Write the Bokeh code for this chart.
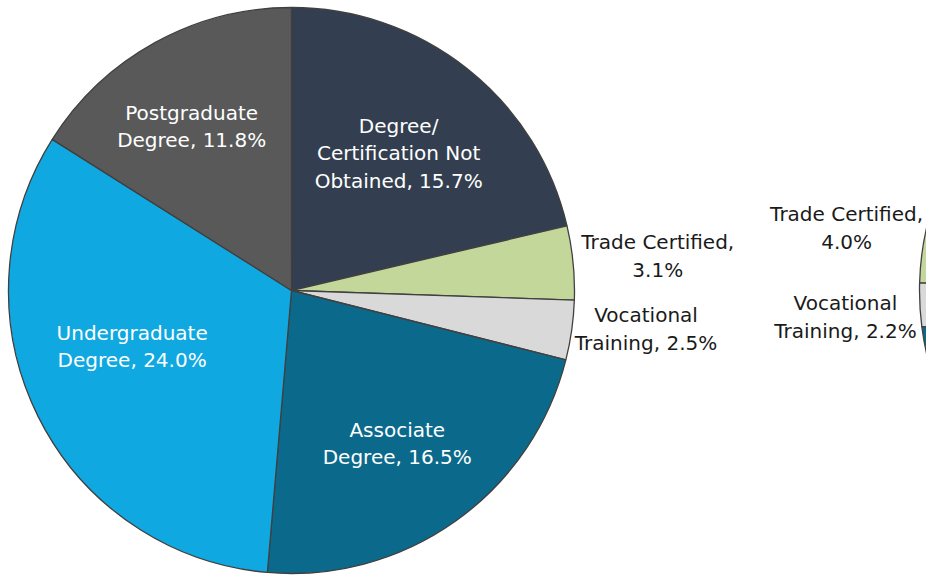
import math
from bokeh.plotting import figure
from bokeh.models import Range1d, ColumnDataSource
from bokeh.core.properties import value
from bokeh.embed import file_html
from bokeh.resources import INLINE

# ---- data ----
categories = ["Degree/ Certification Not Obtained", "Trade Certified", "Vocational Training",
              "Associate Degree", "Undergraduate Degree", "Postgraduate Degree"]
pie1_values = [15.7, 3.1, 2.5, 16.5, 24.0, 11.8]
# second pie is mostly off-canvas; only Trade Certified / Vocational Training are readable
pie2_values = [17.9, 4.0, 2.2, 20.0, 30.0, 15.0]
pie1_labels = ["Degree/\nCertification Not\nObtained, 15.7%", "Trade Certified,\n3.1%",
               "Vocational\nTraining, 2.5%", "Associate\nDegree, 16.5%",
               "Undergraduate\nDegree, 24.0%", "Postgraduate\nDegree, 11.8%"]
pie2_labels = ["", "Trade Certified,\n4.0%", "Vocational\nTraining, 2.2%", "", "", ""]

# ---- styles / layout ----
colors = ["#333F50", "#C4D79B", "#D9D9D9", "#0B6A8B", "#10A8E0", "#595959"]
label_colors1 = ["white", "#1a1a1a", "#1a1a1a", "white", "white", "white"]
label_colors2 = ["white", "#1a1a1a", "#1a1a1a", "white", "white", "white"]
FONT = "DejaVu Sans"
FS = "20px"

W, H = 926, 575
R = 283
c1 = (291, H - 290)
c2 = (1202, H - 290)
# label placement: radius factor and angular offset (deg) from slice mid-angle
lab1_k = [0.615, 1.30, 1.26, 0.657, 0.597, 0.678]
lab1_dt = [0.4, -0.2, 1.9, -0.8, -7.0, 2.5]
lab2_k = [0.6, 1.277, 1.265, 0.6, 0.6, 0.6]
lab2_dt = [0, -0.4, 1.3, 0, 0, 0]

p = figure(width=W, height=H, output_backend="svg", toolbar_location=None,
           x_range=Range1d(0, W), y_range=Range1d(0, H),
           min_border=0, outline_line_color=None)
p.axis.visible = False
p.grid.visible = False
p.background_fill_color = "white"


def pie(center, vals, labels, lcolors, ks, dts, clockwise=True):
    tot = sum(vals)
    starts, ends, lx, ly = [], [], [], []
    cum = 0.0
    sgn = -1 if clockwise else 1
    for v, k, dt in zip(vals, ks, dts):
        a0 = math.pi / 2 + sgn * 2 * math.pi * cum / tot
        a1 = math.pi / 2 + sgn * 2 * math.pi * (cum + v) / tot
        starts.append(a0)
        ends.append(a1)
        mid = (a0 + a1) / 2 + math.radians(dt)
        lx.append(center[0] + k * R * math.cos(mid))
        ly.append(center[1] + k * R * math.sin(mid))
        cum += v
    src = ColumnDataSource(dict(x=[center[0]] * len(vals), y=[center[1]] * len(vals),
                                s=starts, e=ends, color=colors, cat=categories))
    p.wedge(x="x", y="y", radius=R, start_angle="s", end_angle="e",
            direction="clock" if clockwise else "anticlock",
            fill_color="color", line_color="#404040", line_width=1.3, source=src)
    lsrc = ColumnDataSource(dict(x=lx, y=ly, t=labels, c=lcolors))
    p.text(x="x", y="y", text="t", text_color="c", text_align="center",
           text_baseline="middle", text_font=value(FONT), text_font_size=FS,
           text_line_height=1.15, source=lsrc)


pie(c1, pie1_values, pie1_labels, label_colors1, lab1_k, lab1_dt, clockwise=True)
pie(c2, pie2_values, pie2_labels, label_colors2, lab2_k, lab2_dt, clockwise=False)

open("out.html", "w").write(file_html(p, INLINE))
